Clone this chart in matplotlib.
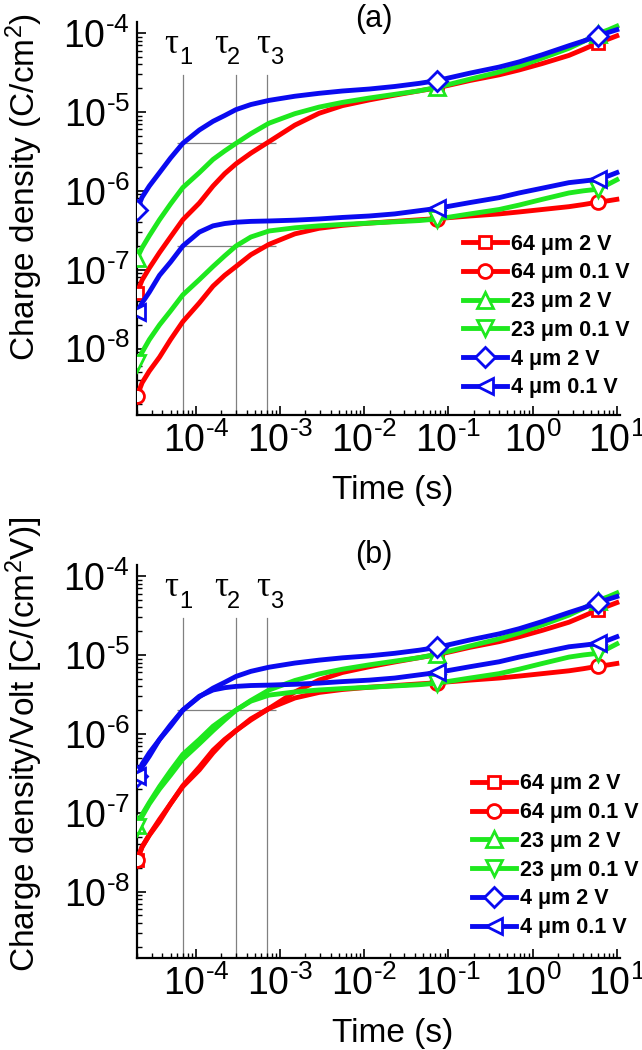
import matplotlib
matplotlib.use("Agg")
import math
import matplotlib.pyplot as plt
from matplotlib.ticker import FuncFormatter, LogLocator

plt.rcParams["font.family"] = ["Liberation Sans", "DejaVu Sans"]
plt.rcParams["mathtext.fontset"] = "custom"
plt.rcParams["mathtext.rm"] = "Liberation Sans"
plt.rcParams["mathtext.it"] = "Liberation Sans:italic"
plt.rcParams["mathtext.default"] = "regular"

# time axis (s)
time_s = [2e-5, 2.3e-5, 2.8e-5, 3.7e-5, 5e-5, 7e-5, 1.1e-4, 1.6e-4, 2.2e-4,
          3e-4, 4.5e-4, 7.4e-4, 1.5e-3, 2.9e-3, 5.5e-3, 1.15e-2, 2.3e-2,
          4.5e-2, 7.4e-2, 0.18, 0.4, 0.69, 1.3, 2.7, 4, 6, 8, 10]
marker_idx = [0, 18, 25]

# charge density (C/cm^2), panel (a)
q_64_2v = [5.1e-8, 7.4e-8, 1.05e-7, 1.65e-7, 2.6e-7, 4.3e-7, 7e-7, 1.15e-6,
           1.65e-6, 2.2e-6, 3e-6, 4.2e-6, 6.8e-6, 9.6e-6, 1.2e-5, 1.42e-5,
           1.63e-5, 1.85e-5, 2.02e-5, 2.5e-5, 2.95e-5, 3.4e-5, 4.1e-5, 5.2e-5,
           6.2e-5, 7.5e-5, 8.4e-5, 9.2e-5]
q_64_01v = [2.5e-9, 3.7e-9, 5.2e-9, 7.8e-9, 1.3e-8, 2.2e-8, 3.8e-8, 6.2e-8,
            8.5e-8, 1.1e-7, 1.55e-7, 2.1e-7, 2.85e-7, 3.35e-7, 3.65e-7,
            3.9e-7, 4.1e-7, 4.3e-7, 4.45e-7, 4.8e-7, 5.1e-7, 5.4e-7, 5.8e-7,
            6.3e-7, 6.7e-7, 7.2e-7, 7.5e-7, 7.8e-7]
q_23_2v = [1.4e-7, 1.9e-7, 2.7e-7, 4.3e-7, 6.8e-7, 1.1e-6, 1.7e-6, 2.5e-6,
           3.2e-6, 4e-6, 5.3e-6, 7.2e-6, 9.5e-6, 1.15e-5, 1.32e-5, 1.5e-5,
           1.67e-5, 1.85e-5, 2.05e-5, 2.6e-5, 3.2e-5, 3.8e-5, 4.8e-5, 6.4e-5,
           7.8e-5, 9.8e-5, 1.1e-4, 1.22e-4]
q_23_01v = [6.6e-9, 9e-9, 1.3e-8, 2e-8, 3e-8, 4.8e-8, 7.5e-8, 1.1e-7, 1.5e-7,
            2e-7, 2.6e-7, 3.1e-7, 3.4e-7, 3.6e-7, 3.75e-7, 3.9e-7, 4.05e-7,
            4.2e-7, 4.4e-7, 5.1e-7, 5.8e-7, 6.6e-7, 7.8e-7, 9.4e-7, 1.0e-6,
            1.05e-6, 1.22e-6, 1.38e-6]
q_4_2v = [5.8e-7, 8.3e-7, 1.15e-6, 1.7e-6, 2.6e-6, 4e-6, 5.9e-6, 7.6e-6,
          9e-6, 1.07e-5, 1.24e-5, 1.4e-5, 1.58e-5, 1.72e-5, 1.84e-5, 1.95e-5,
          2.1e-5, 2.3e-5, 2.5e-5, 3.1e-5, 3.7e-5, 4.3e-5, 5.3e-5, 6.9e-5,
          7.9e-5, 9.2e-5, 1.02e-4, 1.1e-4]
q_4_01v = [2.9e-8, 3.8e-8, 5.2e-8, 8.5e-8, 1.25e-7, 2e-7, 3e-7, 3.6e-7,
           3.85e-7, 4e-7, 4.1e-7, 4.15e-7, 4.25e-7, 4.4e-7, 4.6e-7, 4.8e-7,
           5.1e-7, 5.6e-7, 6e-7, 7.1e-7, 8.2e-7, 9.4e-7, 1.08e-6, 1.27e-6,
           1.33e-6, 1.4e-6, 1.55e-6, 1.7e-6]

series = [q_64_2v, q_64_01v, q_23_2v, q_23_01v, q_4_2v, q_4_01v]
labels = ["64 μm 2 V", "64 μm 0.1 V", "23 μm 2 V", "23 μm 0.1 V",
          "4 μm 2 V", "4 μm 0.1 V"]
volts = [2, 0.1, 2, 0.1, 2, 0.1]
colors = ["#ff0000", "#ff0000", "#1ee81e", "#1ee81e", "#0a0af0", "#0a0af0"]
markers = ["s", "o", "^", "v", "D", "<"]
msizes = [9, 10, 12, 12, 10, 12]

x_ticks = [1e-4, 1e-3, 1e-2, 1e-1, 1, 10]
y_ticks = [1e-8, 1e-7, 1e-6, 1e-5, 1e-4]

taus = [7e-5, 3e-4, 7e-4]
tau_subs = ["1", "2", "3"]
# label offsets from each tau line, in points (tau glyph, subscript)
tau_dx = [-8.3, -10.8, -2.5]
sub_dx = [2.2, -2.2, 7.2]
hlevels_a = [4e-6, 2e-7]
hlevels_b = [2e-6]

GRAY = "#808080"


def decade_label(v, pos):
    e = int(round(math.log10(v)))
    if e < 0:
        return r"$10^{\text{-}%d}$" % (-e)
    return r"$10^{%d}$" % e


def style_axes(ax):
    ax.set_xscale("log")
    ax.set_yscale("log")
    ax.set_xlim(2e-5, 10.9)
    ax.set_ylim(10 ** -8.84, 10 ** -3.86)
    ax.set_xticks(x_ticks)
    ax.set_yticks(y_ticks)
    ax.xaxis.set_minor_locator(LogLocator(base=10, subs=range(2, 10), numticks=20))
    ax.yaxis.set_minor_locator(LogLocator(base=10, subs=range(2, 10), numticks=20))
    ax.xaxis.set_major_formatter(FuncFormatter(decade_label))
    ax.yaxis.set_major_formatter(FuncFormatter(decade_label))
    for side in ["top", "right"]:
        ax.spines[side].set_visible(False)
    for side in ["left", "bottom"]:
        ax.spines[side].set_linewidth(1.6)
    ax.tick_params(which="both", direction="in", top=False, right=False)
    ax.tick_params(which="major", length=6.5, width=1.2, labelsize=27, pad=5)
    ax.tick_params(which="minor", length=3.5, width=1.0)


def draw_panel(ax, per_volt, hlevels, legend_xy, tag, tag_y):
    for tau, sub, dx1, dx2 in zip(taus, tau_subs, tau_dx, sub_dx):
        ax.axvline(tau, ymin=0, ymax=0.865, color=GRAY, lw=0.9, zorder=1)
        ax.annotate("τ", xy=(tau, 0.9415), xycoords=("data", "axes fraction"),
                    xytext=(dx1, 0), textcoords="offset points",
                    ha="center", va="center", fontsize=25,
                    family="Liberation Serif")
        ax.annotate(sub, xy=(tau, 0.907), xycoords=("data", "axes fraction"),
                    xytext=(dx2, 0), textcoords="offset points",
                    ha="center", va="center", fontsize=17)
    ax.hlines(hlevels, 6e-5, 9e-4, colors=GRAY, lw=0.9, zorder=1)

    for vals, lab, v, c, m, ms in zip(series, labels, volts, colors,
                                      markers, msizes):
        y = [q / v for q in vals] if per_volt else vals
        ax.plot(time_s, y, color=c, lw=3.5, marker=m, ms=ms, mfc="white",
                mec=c, mew=2.0, markevery=marker_idx, label=lab, zorder=3)

    leg = ax.legend(loc="center left", bbox_to_anchor=legend_xy,
                    frameon=False, borderpad=0, borderaxespad=0,
                    handlelength=2.05, handletextpad=0.18, labelspacing=0.36,
                    prop={"weight": "bold", "size": 15.5})
    leg.set_zorder(5)

    ax.text(0.49, tag_y, tag, transform=ax.transAxes, ha="center",
            va="center", fontsize=22)
    ax.set_xlabel("Time (s)", fontsize=24)
    ax.xaxis.set_label_coords(0.53, -0.152)
    ax.xaxis.label.set_va("top")


def main():
    fig = plt.figure(figsize=(6.42, 10.5), dpi=100)
    ax_a = fig.add_axes([0.2134, 0.6048, 0.7523, 0.3743])
    ax_b = fig.add_axes([0.2134, 0.0876, 0.7523, 0.3743])

    for ax in (ax_a, ax_b):
        style_axes(ax)

    draw_panel(ax_a, False, hlevels_a, (0.675, 0.252), "(a)", 1.008)
    draw_panel(ax_b, True, hlevels_b, (0.694, 0.26), "(b)", 1.025)

    ax_a.set_ylabel("Charge density (C/cm$^2$)", fontsize=24)
    ax_a.yaxis.set_label_coords(-0.19, 0.58)
    ax_b.set_ylabel("Charge density/Volt [C/(cm$^2$V)]", fontsize=24)
    ax_b.yaxis.set_label_coords(-0.19, 0.545)

    fig.savefig("out.png", dpi=100)
    plt.close(fig)


if __name__ == "__main__":
    main()
